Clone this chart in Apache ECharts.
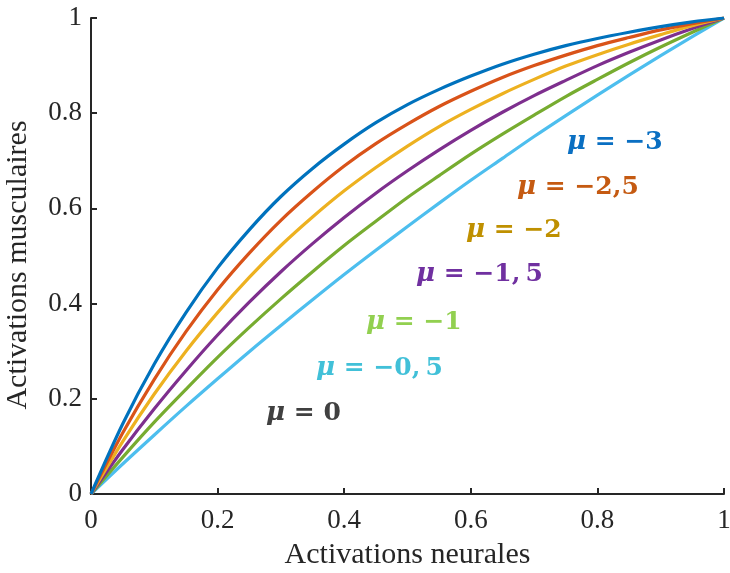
<!DOCTYPE html>
<html>
<head>
<meta charset="utf-8">
<script src="https://cdn.jsdelivr.net/npm/echarts@6/dist/echarts.min.js"></script>
<style>
html,body{margin:0;padding:0;background:#fff;}
#chart{width:730px;height:573px;}
</style>
</head>
<body>
<div id="chart"></div>
<script>
var xVals=[0,0.05,0.1,0.15,0.2,0.25,0.3,0.35,0.4,0.45,0.5,0.55,0.6,0.65,0.7,0.75,0.8,0.85,0.9,0.95,1];
var mu30=[0,0.147,0.273,0.381,0.475,0.555,0.625,0.684,0.735,0.780,0.818,0.850,0.878,0.903,0.924,0.942,0.957,0.970,0.982,0.992,1];
var mu25=[0,0.128,0.241,0.341,0.429,0.506,0.575,0.635,0.689,0.736,0.777,0.814,0.846,0.875,0.900,0.922,0.942,0.959,0.975,0.988,1];
var mu20=[0,0.110,0.210,0.300,0.381,0.455,0.522,0.582,0.637,0.686,0.731,0.772,0.808,0.841,0.871,0.899,0.923,0.945,0.965,0.984,1];
var mu15=[0,0.093,0.179,0.259,0.334,0.403,0.467,0.526,0.581,0.632,0.679,0.723,0.764,0.802,0.837,0.869,0.900,0.928,0.954,0.978,1];
var mu10=[0,0.077,0.151,0.220,0.287,0.350,0.410,0.467,0.522,0.573,0.623,0.669,0.714,0.756,0.796,0.835,0.871,0.906,0.939,0.970,1];
var mu05=[0,0.063,0.124,0.184,0.242,0.299,0.354,0.408,0.461,0.512,0.562,0.611,0.659,0.705,0.751,0.795,0.838,0.880,0.921,0.961,1];

var seriesData=[mu30,mu25,mu20,mu15,mu10,mu05];
var lineColors=['#0072BD','#D95319','#EDB120','#7E2F8E','#77AC30','#4DBEEE'];
var labelTexts=['−3','−2,5','−2','−1, 5','−1','−0, 5','0'];
var labelColors=['#0A6FC2','#C55A11','#BF9000','#7030A0','#92D050','#41C0D8','#404040'];
var labelPos=[[567,142],[517,187],[466,230],[416,274],[366,322],[316,368],[266,413]];

function pairs(ys){
	var out=[];
	for(var i=0;i<xVals.length;i++){
		out.push([xVals[i],ys[i]]);
	}
	return out;
}

var series=[];
for(var s=seriesData.length-1;s>=0;s--){
	series.push({
		type:'line',
		data:pairs(seriesData[s]),
		showSymbol:false,
		smooth:0.3,
		lineStyle:{color:lineColors[s],width:3.2},
		z:10+(seriesData.length-s)
	});
}

var graphics=[];
for(var i=0;i<labelTexts.length;i++){
	graphics.push({
		type:'text',
		left:labelPos[i][0],
		top:labelPos[i][1]-13,
		z:100,
		style:{
			text:'{m|μ}{t| = '+labelTexts[i].replace(', ',',\u2009')+'}',
			fill:labelColors[i],
			rich:{
				m:{fontStyle:'italic',fontWeight:'bold',fontSize:26,fontFamily:'"DejaVu Serif", serif',fill:labelColors[i]},
				t:{fontWeight:'bold',fontSize:25,fontFamily:'"DejaVu Serif", serif',fill:labelColors[i]}
			}
		}
	});
}

var axisCommon={
	type:'value',
	min:0,
	max:1,
	interval:0.2,
	splitLine:{show:false},
	axisLine:{show:true,lineStyle:{color:'#262626',width:2}},
	axisTick:{show:true,inside:true,length:6,lineStyle:{color:'#262626',width:2}},
	axisLabel:{color:'#262626',fontSize:27,fontFamily:'"Liberation Serif", serif'},
	nameLocation:'middle',
	nameTextStyle:{color:'#262626',fontSize:30,fontFamily:'"Liberation Serif", serif'}
};

var option={
	animation:false,
	backgroundColor:'#fff',
	grid:{left:91,right:6,top:18,bottom:79,containLabel:false,outerBoundsMode:'none'},
	xAxis:Object.assign({},axisCommon,{
		name:'Activations neurales',
		nameGap:46,
		axisLabel:Object.assign({},axisCommon.axisLabel,{margin:13})
	}),
	yAxis:Object.assign({},axisCommon,{
		name:'Activations musculaires',
		nameGap:58,
		nameTextStyle:Object.assign({},axisCommon.nameTextStyle,{padding:[0,0,0,-18]}),
		axisLabel:Object.assign({},axisCommon.axisLabel,{margin:9})
	}),
	series:series,
	graphic:graphics
};

var myChart=echarts.init(document.getElementById('chart'));
myChart.setOption(option);
</script>
</body>
</html>
